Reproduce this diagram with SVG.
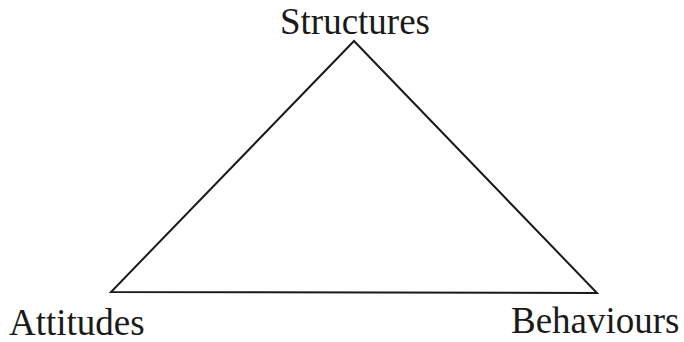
<svg xmlns="http://www.w3.org/2000/svg" width="684" height="342" viewBox="0 0 684 342">
<style>
text{font-family:"Liberation Serif","Times New Roman",serif;font-size:37px;fill:#1a1a1a}
.edge{stroke:#1a1a1a;stroke-width:2;fill:none;stroke-linejoin:miter}
</style>
<rect width="684" height="342" fill="#ffffff"/>
<g id="connectors">
<polygon class="edge" points="354,41 597,293 111,292"/>
</g>
<g id="structures"><text x="355" y="34" text-anchor="middle">Structures</text></g>
<g id="attitudes"><text x="9" y="335">Attitudes</text></g>
<g id="behaviours"><text x="511" y="333">Behaviours</text></g>
</svg>
